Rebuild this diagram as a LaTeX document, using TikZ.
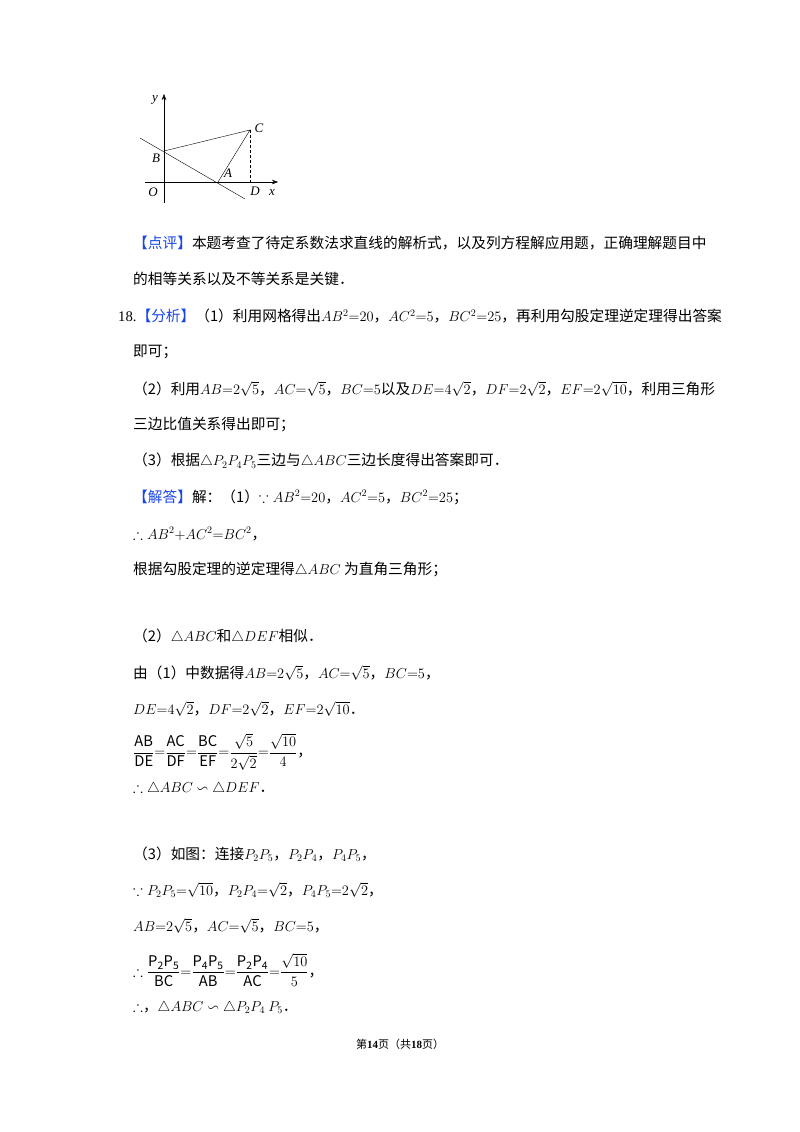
\documentclass[tikz,border=0pt]{standalone}
\usetikzlibrary{arrows.meta}
\usepackage{amsmath,amssymb}
\usepackage{fontspec}
\setmainfont{Noto Sans CJK SC}
\newfontfamily\lat{Liberation Serif}
\definecolor{hl}{RGB}{25,70,235}
\newcommand{\hb}[1]{\textcolor{hl}{【#1】}}
\begin{document}
\begin{tikzpicture}[x=1pt,y=-1pt,
  ln/.style={anchor=west,inner sep=0,font=\fontsize{14.7}{17}\selectfont},
  lb/.style={inner sep=0,font=\lat\itshape\fontsize{13}{14}\selectfont}]
\useasboundingbox[fill=white] (0,0) rectangle (800,1132);
% figure
\coordinate (O) at (164,182);
\draw[-{Stealth[length=6pt]}] (145,182) -- (278,182);
\draw[-{Stealth[length=6pt]}] (164,203) -- (164,94);
\coordinate (B) at (164,151);
\coordinate (C) at (250,130);
\coordinate (A) at (218,182);
\coordinate (D) at (250,182);
\coordinate (L1) at (140,138);
\coordinate (L2) at (245,199);
\draw (L1) -- (L2);
\draw (B) -- (C) -- (A);
\draw[densely dashed] (C) -- (D);
\node[lb] at (155,100) {y};
\node[lb] at (259,128) {C};
\node[lb] at (156,158) {B};
\node[lb] at (228,173) {A};
\node[lb] at (153,192) {O};
\node[lb] at (255,191) {D};
\node[lb] at (272,193) {x};
% text
\node[ln] (t1) at (133,243) {\hb{点评}本题考查了待定系数法求直线的解析式，以及列方程解应用题，正确理解题目中};
\node[ln] (t2) at (133,279) {的相等关系以及不等关系是关键．};
\node[ln] (t3) at (118,316) {{\lat 18.}\hb{分析}（1）利用网格得出$AB^2{=}20$，$AC^2{=}5$，$BC^2{=}25$，再利用勾股定理逆定理得出答案};
\node[ln] (t4) at (133,352) {即可；};
\node[ln] (t5) at (133,389) {（2）利用$AB{=}2\sqrt{5}$，$AC{=}\sqrt{5}$，$BC{=}5$以及$DE{=}4\sqrt{2}$，$DF{=}2\sqrt{2}$，$EF{=}2\sqrt{10}$，利用三角形};
\node[ln] (t6) at (133,425) {三边比值关系得出即可；};
\node[ln] (t7) at (133,461) {（3）根据$\triangle P_2P_4P_5$三边与$\triangle ABC$三边长度得出答案即可．};
\node[ln] (t8) at (133,497) {\hb{解答}解：（1）$\because AB^2{=}20$，$AC^2{=}5$，$BC^2{=}25$；};
\node[ln] (t9) at (133,534) {$\therefore AB^2{+}AC^2{=}BC^2$，};
\node[ln] (t10) at (133,570) {根据勾股定理的逆定理得$\triangle ABC$ 为直角三角形；};
\node[ln] (t11) at (133,637) {（2）$\triangle ABC$和$\triangle DEF$相似．};
\node[ln] (t12) at (133,673) {由（1）中数据得$AB{=}2\sqrt{5}$，$AC{=}\sqrt{5}$，$BC{=}5$，};
\node[ln] (t13) at (133,709) {$DE{=}4\sqrt{2}$，$DF{=}2\sqrt{2}$，$EF{=}2\sqrt{10}$．};
\node[ln] (t14) at (133,752) {$\dfrac{\mathrm{AB}}{\mathrm{DE}}{=}\dfrac{\mathrm{AC}}{\mathrm{DF}}{=}\dfrac{\mathrm{BC}}{\mathrm{EF}}{=}\dfrac{\sqrt{5}}{2\sqrt{2}}{=}\dfrac{\sqrt{10}}{4}$，};
\node[ln] (t15) at (133,789) {$\therefore\triangle ABC\backsim\triangle DEF$．};
\node[ln] (t16) at (133,854) {（3）如图：连接$P_2P_5$，$P_2P_4$，$P_4P_5$，};
\node[ln] (t17) at (133,890) {$\because P_2P_5{=}\sqrt{10}$，$P_2P_4{=}\sqrt{2}$，$P_4P_5{=}2\sqrt{2}$，};
\node[ln] (t18) at (133,926) {$AB{=}2\sqrt{5}$，$AC{=}\sqrt{5}$，$BC{=}5$，};
\node[ln] (t19) at (133,970) {$\therefore\dfrac{\mathrm{P_2P_5}}{\mathrm{BC}}{=}\dfrac{\mathrm{P_4P_5}}{\mathrm{AB}}{=}\dfrac{\mathrm{P_2P_4}}{\mathrm{AC}}{=}\dfrac{\sqrt{10}}{5}$，};
\node[ln] (t20) at (133,1008) {$\therefore$，$\triangle ABC\backsim\triangle P_2P_4\ P_5$．};
\node[inner sep=0,font=\fontsize{11}{13}\selectfont] (ft) at (400,1044) {第\textbf{\lat 14}页（共\textbf{\lat 18}页）};
\end{tikzpicture}
\end{document}
